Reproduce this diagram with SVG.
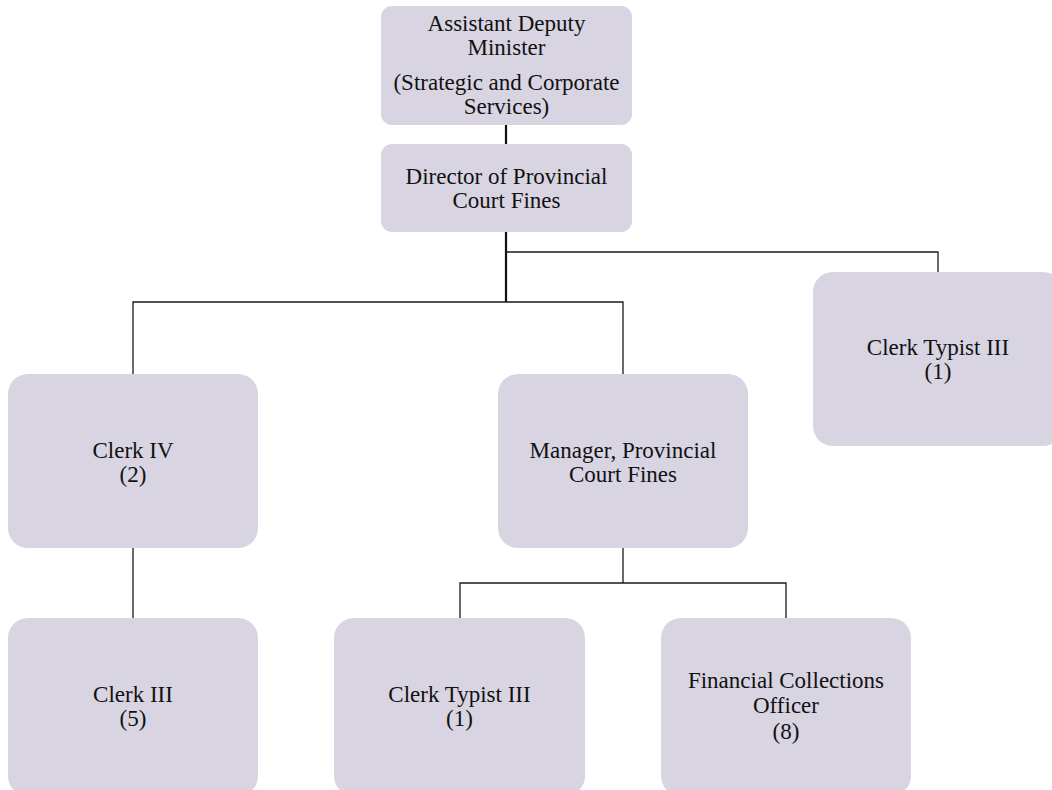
<svg xmlns="http://www.w3.org/2000/svg" width="1052" height="790" viewBox="0 0 1052 790">
<style>
.box{fill:#d8d4e2;}
.t{font-family:"Liberation Serif","Times New Roman",serif;font-size:23px;fill:#111;text-anchor:middle;}
.c{fill:none;stroke:#1a1a1a;stroke-width:1.3;}
.ct{fill:none;stroke:#111;stroke-width:2.2;}
</style>
<rect width="1052" height="790" fill="#fff"/>
<g id="connectors">
<line class="ct" x1="506" y1="125" x2="506" y2="144"/>
<line class="ct" x1="506" y1="232" x2="506" y2="302"/>
<polyline class="c" points="133,374 133,302 623,302 623,374"/>
<polyline class="c" points="506,252 938,252 938,272"/>
<line class="c" x1="133" y1="548" x2="133" y2="618"/>
<line class="c" x1="623" y1="548" x2="623" y2="583"/>
<polyline class="c" points="460,618 460,583 786,583 786,618"/>
</g>
<g id="adm">
<rect class="box" x="381" y="6" width="251" height="119" rx="11"/>
<text class="t" x="506.5" y="31"><tspan x="506.5" y="31">Assistant Deputy</tspan><tspan x="506.5" y="55">Minister</tspan><tspan x="506.5" y="90">(Strategic and Corporate</tspan><tspan x="506.5" y="114">Services)</tspan></text>
</g>
<g id="director">
<rect class="box" x="381" y="144" width="251" height="88" rx="11"/>
<text class="t" x="506.5" y="184"><tspan x="506.5" y="184">Director of Provincial</tspan><tspan x="506.5" y="208">Court Fines</tspan></text>
</g>
<g id="clerk-typist-right">
<rect class="box" x="813" y="272" width="250" height="174" rx="20"/>
<text class="t" x="938" y="355"><tspan x="938" y="355">Clerk Typist III</tspan><tspan x="938" y="379">(1)</tspan></text>
</g>
<g id="clerk-iv">
<rect class="box" x="8" y="374" width="250" height="174" rx="20"/>
<text class="t" x="133" y="458"><tspan x="133" y="458">Clerk IV</tspan><tspan x="133" y="482">(2)</tspan></text>
</g>
<g id="manager">
<rect class="box" x="498" y="374" width="250" height="174" rx="20"/>
<text class="t" x="623" y="458"><tspan x="623" y="458">Manager, Provincial</tspan><tspan x="623" y="482">Court Fines</tspan></text>
</g>
<g id="clerk-iii">
<rect class="box" x="8" y="618" width="250" height="178" rx="20"/>
<text class="t" x="133" y="702"><tspan x="133" y="702">Clerk III</tspan><tspan x="133" y="726">(5)</tspan></text>
</g>
<g id="clerk-typist-bottom">
<rect class="box" x="334" y="618" width="251" height="178" rx="20"/>
<text class="t" x="459.5" y="702"><tspan x="459.5" y="702">Clerk Typist III</tspan><tspan x="459.5" y="726">(1)</tspan></text>
</g>
<g id="financial">
<rect class="box" x="661" y="618" width="250" height="178" rx="20"/>
<text class="t" x="786" y="688"><tspan x="786" y="688">Financial Collections</tspan><tspan x="786" y="713">Officer</tspan><tspan x="786" y="739">(8)</tspan></text>
</g>
</svg>
